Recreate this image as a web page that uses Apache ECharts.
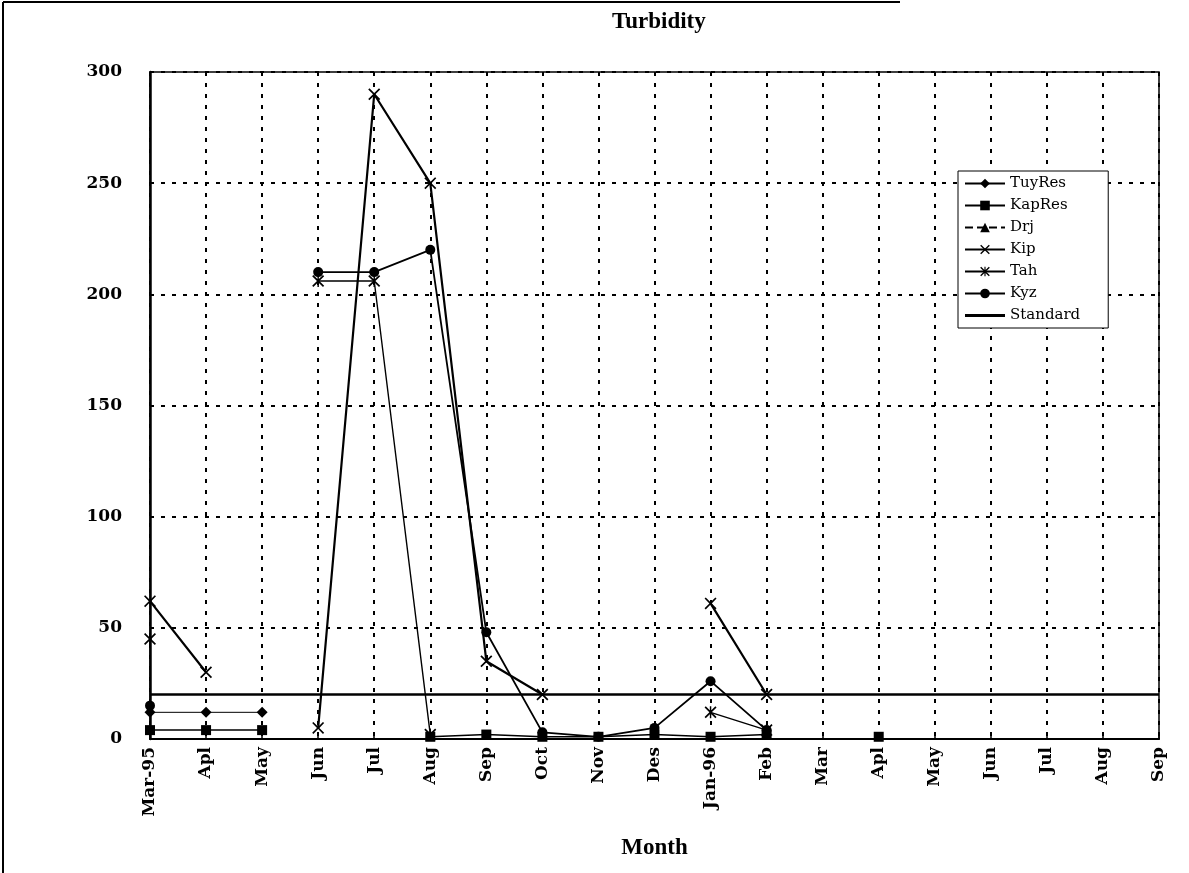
<!DOCTYPE html>
<html>
<head>
<meta charset="utf-8">
<title>Turbidity</title>
<script src="https://cdn.jsdelivr.net/npm/echarts@6/dist/echarts.min.js"></script>
<style>
  html, body { margin: 0; padding: 0; background: #fff; }
  #chart { width: 1189px; height: 873px; }
</style>
</head>
<body>
<div id="chart"></div>
<script>
// months on the x axis (Mar-95 .. Sep-96)
const months = ['Mar-95', 'Apl', 'May', 'Jun', 'Jul', 'Aug', 'Sep', 'Oct', 'Nov', 'Des',
  'Jan-96', 'Feb', 'Mar', 'Apl', 'May', 'Jun', 'Jul', 'Aug', 'Sep']

// turbidity readings per site (null = no sample)
const tuyRes = [12, 12, 12, null, null, null, null, null, null, null, null, null, null, null, null, null, null, null, null]
const kapRes = [4, 4, 4, null, null, 1, 2, 1, 1, 2, 1, 2, null, 1, null, null, null, null, null]
const drj = [null, null, null, null, null, null, null, null, null, null, null, null, null, null, null, null, null, null, null]
const kip = [62, 30, null, 5, 290, 250, 35, 20, null, null, 61, 20, null, null, null, null, null, null, null]
const tah = [45, null, null, 206, 206, 2, null, null, null, null, 12, 4, null, null, null, null, null, null, null]
const kyz = [15, null, null, 210, 210, 220, 48, 3, 1, 5, 26, 4, null, null, null, null, null, null, null]
const standard = months.map(() => 20)

const yTicks = { min: 0, max: 300, interval: 50 }

// x and asterisk markers as filled polygons
const xMark = 'path://M0,1L1,0L5,4L9,0L10,1L6,5L10,9L9,10L5,6L1,10L0,9L4,5Z'
const starMark = xMark + 'M4.4,0L5.6,0L5.6,10L4.4,10Z'

function line(name, data, symbol, size, width, type) {
  return {
    name: name,
    type: 'line',
    data: data,
    symbol: symbol,
    symbolSize: size,
    showSymbol: true,
    connectNulls: false,
    animation: false,
    itemStyle: { color: '#000' },
    lineStyle: { color: '#000', width: width, type: type || 'solid' },
    emphasis: { disabled: true }
  }
}

const serif = 'Liberation Serif'
const wide = 'DejaVu Serif'

let myChart = echarts.init(document.getElementById('chart'))

let option = {
  backgroundColor: '#fff',
  animation: false,
  title: {
    text: 'Turbidity',
    left: 607,
    top: 6,
    textStyle: { fontFamily: serif, fontSize: 23, fontWeight: 'bold', color: '#000' }
  },
  legend: {
    orient: 'vertical',
    left: 958,
    top: 171,
    itemWidth: 40,
    itemHeight: 12,
    itemGap: 7,
    padding: [5, 28, 5, 6],
    borderColor: '#000',
    borderWidth: 1,
    backgroundColor: '#fff',
    textStyle: { fontFamily: wide, fontSize: 15, color: '#000' },
    data: ['TuyRes', 'KapRes', 'Drj', 'Kip', 'Tah', 'Kyz',
      { name: 'Standard', icon: 'path://M0,0L40,0L40,3L0,3Z' }]
  },
  grid: {
    left: 150,
    right: 30,
    top: 72,
    bottom: 134,
    show: true,
    borderColor: '#000',
    borderWidth: 1.5
  },
  xAxis: {
    type: 'category',
    data: months,
    boundaryGap: false,
    name: 'Month',
    nameLocation: 'middle',
    nameGap: 98,
    nameTextStyle: { fontFamily: serif, fontSize: 23, fontWeight: 'bold', color: '#000' },
    axisLine: { lineStyle: { color: '#000', width: 2 } },
    axisTick: { show: true, inside: true, length: 6, interval: 0, lineStyle: { color: '#000', width: 1.5 } },
    axisLabel: {
      rotate: 90,
      interval: 0,
      margin: 8,
      fontFamily: wide,
      fontSize: 17,
      fontWeight: 'bold',
      color: '#000'
    },
    splitLine: {
      show: true,
      interval: 0,
      lineStyle: { color: '#000', width: 2, type: [4, 7] }
    }
  },
  yAxis: {
    type: 'value',
    min: yTicks.min,
    max: yTicks.max,
    interval: yTicks.interval,
    axisLine: { show: true, lineStyle: { color: '#000', width: 2.5 } },
    axisTick: { show: false },
    axisLabel: {
      margin: 28,
      fontFamily: wide,
      fontSize: 17,
      fontWeight: 'bold',
      color: '#000'
    },
    splitLine: {
      show: true,
      lineStyle: { color: '#000', width: 2, type: [4, 7] }
    }
  },
  series: [
    line('TuyRes', tuyRes, 'diamond', 11, 1, 'solid'),
    line('KapRes', kapRes, 'rect', 10, 1.5, 'solid'),
    line('Drj', drj, 'triangle', 10, 1, 'dashed'),
    line('Kip', kip, xMark, 12, 2.2, 'solid'),
    line('Tah', tah, starMark, 12, 1.4, 'solid'),
    line('Kyz', kyz, 'circle', 10, 1.8, 'solid'),
    {
      name: 'Standard',
      type: 'line',
      data: standard,
      symbol: 'none',
      animation: false,
      itemStyle: { color: '#000' },
      lineStyle: { color: '#000', width: 2.5 },
      emphasis: { disabled: true }
    }
  ],
  graphic: [
    { type: 'line', shape: { x1: 3, y1: 2, x2: 3, y2: 873 }, style: { stroke: '#000', lineWidth: 2 } },
    { type: 'line', shape: { x1: 3, y1: 2, x2: 900, y2: 2 }, style: { stroke: '#000', lineWidth: 2 } }
  ]
}

myChart.setOption(option)
</script>
</body>
</html>
